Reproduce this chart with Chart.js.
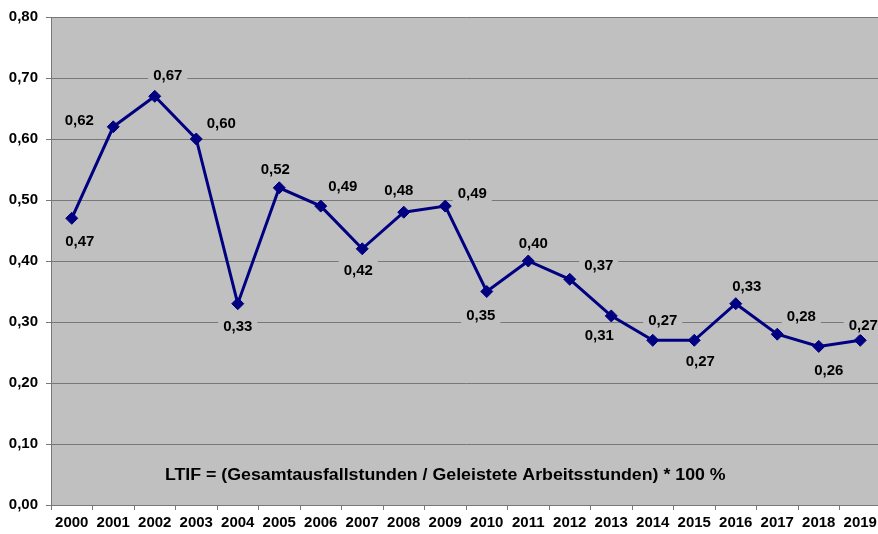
<!DOCTYPE html>
<html>
<head>
<meta charset="utf-8">
<title>LTIF 2000-2019</title>
<script src="https://cdn.jsdelivr.net/npm/chart.js@4/dist/chart.umd.min.js"></script>
<style>
    html, body { margin: 0; padding: 0; background: #fff; overflow: hidden; }
    #wrap { position: relative; width: 878px; height: 534px; overflow: hidden; }
    #ltif { position: absolute; left: 0; top: 0; display: block; }
</style>
</head>
<body>
<!-- canvas runs a little past the right edge: the last category is cut off -->
<div id="wrap"><canvas id="ltif" width="888" height="534"></canvas></div>
<script>
// LTIF per year
const years = ['2000', '2001', '2002', '2003', '2004', '2005', '2006', '2007', '2008', '2009',
               '2010', '2011', '2012', '2013', '2014', '2015', '2016', '2017', '2018', '2019'];
const ltif = [0.47, 0.62, 0.67, 0.60, 0.33, 0.52, 0.49, 0.42, 0.48, 0.49,
              0.35, 0.40, 0.37, 0.31, 0.27, 0.27, 0.33, 0.28, 0.26, 0.27];
const yTicks = [0, 0.1, 0.2, 0.3, 0.4, 0.5, 0.6, 0.7, 0.8];
const formula = 'LTIF = (Gesamtausfallstunden / Geleistete Arbeitsstunden) * 100 %';

const FONT = '"Liberation Sans", Arial, sans-serif';
const PLOT_BG = '#c0c0c0';
const GRID = '#787878';

// where each value label sits relative to its marker (dx, dy)
const labelOffsets = [
    [8, 23], [-34, -7], [13, -21], [25, -16], [0, 22], [-4, -19], [22, -20], [-4, 21], [-5, -22], [27, -13],
    [-6, 23], [5, -18], [29, -14], [-12, 19], [10, -20], [6, 21], [11, -18], [24, -18], [10, 23], [3, -15]
];

const fmt = v => v.toFixed(2).replace('.', ',');

// grey plot area like the old Excel charts
const plotBackground = {
    id: 'plotBackground',
    beforeDraw(chart) {
        const a = chart.chartArea, ctx = chart.ctx;
        ctx.save();
        ctx.fillStyle = PLOT_BG;
        ctx.fillRect(a.left, a.top, a.right - a.left, a.bottom - a.top);
        ctx.restore();
    }
};

// value labels with grey boxes, plus the formula text
const valueLabels = {
    id: 'valueLabels',
    afterDatasetsDraw(chart) {
        const ctx = chart.ctx;
        const pts = chart.getDatasetMeta(0).data;
        ctx.save();
        ctx.font = 'bold 15px ' + FONT;
        ctx.textAlign = 'center';
        ctx.textBaseline = 'middle';
        pts.forEach((p, i) => {
            const txt = fmt(chart.data.datasets[0].data[i]);
            const x = p.x + labelOffsets[i][0];
            const y = p.y + labelOffsets[i][1];
            const w = ctx.measureText(txt).width;
            ctx.fillStyle = PLOT_BG;
            ctx.fillRect(x - w / 2 - 5, y - 9, w + 10, 18);
            ctx.fillStyle = '#000';
            ctx.fillText(txt, x, y + 1);
        });

        // formula, a bit wider than the plain font
        const xs = chart.scales.x, ys = chart.scales.y;
        ctx.font = 'bold 16px ' + FONT;
        ctx.translate(xs.getPixelForValue(9), ys.getPixelForValue(0.05));
        ctx.scale(1.11, 1);
        ctx.fillText(formula, 0, 1);
        ctx.restore();
    }
};

new Chart(document.getElementById('ltif'), {
    type: 'line',
    data: {
        labels: years,
        datasets: [{
            data: ltif,
            borderColor: '#000080',
            backgroundColor: '#000080',
            borderWidth: 3,
            pointStyle: 'rectRot',
            pointRadius: 6,
            pointHoverRadius: 6,
            pointBackgroundColor: '#000080',
            pointBorderColor: '#000080',
            pointBorderWidth: 1,
            tension: 0,
            fill: false
        }]
    },
    options: {
        responsive: false,
        animation: false,
        layout: { padding: { top: 15, right: 1, left: 0, bottom: 0 } },
        plugins: {
            legend: { display: false },
            tooltip: { enabled: false }
        },
        scales: {
            x: {
                offset: true,
                grid: {
                    offset: true,
                    drawOnChartArea: false,
                    color: GRID,
                    tickLength: 5
                },
                border: { color: GRID, width: 1 },
                ticks: {
                    color: '#000',
                    font: { family: FONT, size: 15, weight: 'bold' },
                    padding: 4,
                    maxRotation: 0,
                    autoSkip: false
                },
                afterFit(scale) { scale.height = 29; }
            },
            y: {
                min: 0,
                max: 0.8,
                afterBuildTicks(scale) { scale.ticks = yTicks.map(v => ({ value: v })); },
                grid: {
                    color: GRID,
                    lineWidth: 1,
                    tickLength: 5
                },
                border: { color: GRID, width: 1 },
                ticks: {
                    color: '#000',
                    font: { family: FONT, size: 15, weight: 'bold' },
                    padding: 8,
                    callback: v => fmt(v)
                },
                afterFit(scale) { scale.width = 51; }
            }
        }
    },
    plugins: [plotBackground, valueLabels]
});
</script>
</body>
</html>
